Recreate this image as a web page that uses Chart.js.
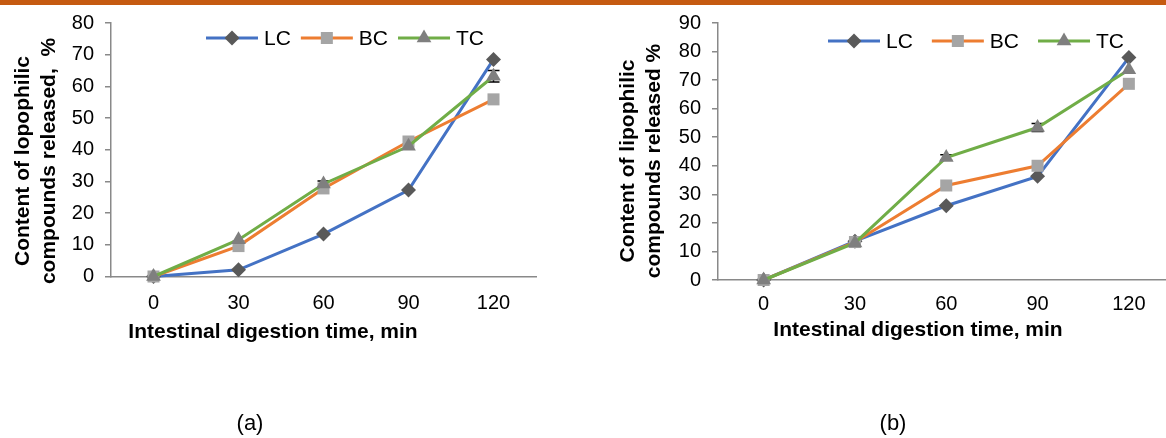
<!DOCTYPE html>
<html>
<head>
<meta charset="utf-8">
<script src="https://cdn.jsdelivr.net/npm/chart.js@4.4.1/dist/chart.umd.min.js"></script>
<style>
  html, body { margin: 0; padding: 0; background: #fff; width: 1166px; height: 438px; overflow: hidden; position: relative; font-family: "Liberation Sans", Arial, sans-serif; }
  #topbar { position: absolute; left: 0; top: 0; width: 1166px; height: 5px; background: #C55A11; }
  .panel { position: absolute; top: 0; height: 438px; }
  #pa { left: 0; width: 583px; }
  #pb { left: 583px; width: 600px; }
  .cap { position: absolute; top: 410px; font-size: 22px; line-height: 26px; color: #000; transform: translateX(-50%); white-space: nowrap; }
</style>
</head>
<body>
<div id="topbar"></div>
<div class="panel" id="pa"><canvas id="ca" width="583" height="438"></canvas></div>
<div class="panel" id="pb"><canvas id="cb" width="600" height="438"></canvas></div>
<div class="cap" style="left:250px">(a)</div>
<div class="cap" style="left:893px">(b)</div>

<script>
// Intestinal digestion time points, min
const timeLabels = ['0', '30', '60', '90', '120'];
const seriesNames = ['LC', 'BC', 'TC'];

// Panel (a): lipophilic compounds released, %
const lcA = [0, 2.1, 13.4, 27.3, 68.5];
const bcA = [0, 9.6, 27.8, 42.6, 55.9];
const tcA = [0, 11.6, 29.2, 41.1, 63.2];
const tcErrA = [0, 0, 0.9, 0, 1.8];

// Panel (b): lipophilic compounds released, %
const lcB = [0, 13.6, 26.0, 36.3, 77.9];
const bcB = [0, 13.3, 33.1, 40.0, 68.7];
const tcB = [0, 13.0, 42.9, 53.4, 73.6];
const tcErrB = [0, 0, 1.0, 1.4, 0];

// Value axis ranges
const yMaxA = 80;
const yMaxB = 90;
const yStep = 10;

const FONT = '"Liberation Sans", Arial, sans-serif';
const AXIS_GREY = '#898989';

const seriesStyle = {
  LC: { line: '#4472C4', marker: '#595959', pointStyle: 'rectRot', radius: 7.5 },
  BC: { line: '#ED7D31', marker: '#A5A5A5', pointStyle: 'rect', radius: 8.5 },
  TC: { line: '#70AD47', marker: '#7F7F7F', pointStyle: 'triangle', radius: 8.5 }
};

function makeDataset(name, values, order, errors) {
  const s = seriesStyle[name];
  return {
    label: name,
    data: values,
    errorBars: errors || null,
    order: order,
    borderColor: s.line,
    backgroundColor: s.line,
    borderWidth: 3,
    tension: 0,
    clip: false,
    pointStyle: s.pointStyle,
    pointRadius: s.radius,
    pointHoverRadius: s.radius,
    pointBackgroundColor: s.marker,
    pointBorderColor: s.marker,
    pointBorderWidth: 0
  };
}

// Draws error bars under the markers, the line-and-marker legend and the axis titles
const panelDecor = {
  id: 'panelDecor',
  beforeDatasetsDraw(chart) {
    const ctx = chart.ctx;
    const yScale = chart.scales.y;
    ctx.save();
    ctx.strokeStyle = '#000';
    ctx.lineWidth = 1.5;
    chart.data.datasets.forEach((ds, i) => {
      if (!ds.errorBars) return;
      const meta = chart.getDatasetMeta(i);
      meta.data.forEach((pt, j) => {
        const e = ds.errorBars[j];
        if (!e) return;
        const v = ds.data[j];
        const yTop = yScale.getPixelForValue(v + e);
        const yBot = yScale.getPixelForValue(v - e);
        ctx.beginPath();
        ctx.moveTo(pt.x, yTop); ctx.lineTo(pt.x, yBot);
        ctx.moveTo(pt.x - 6, yTop); ctx.lineTo(pt.x + 6, yTop);
        ctx.moveTo(pt.x - 6, yBot); ctx.lineTo(pt.x + 6, yBot);
        ctx.stroke();
      });
    });
    ctx.restore();
  },
  afterDraw(chart, args, opts) {
    const ctx = chart.ctx;
    ctx.save();

    // legend: line with marker, then series name
    ctx.font = '21px ' + FONT;
    ctx.textBaseline = 'middle';
    ctx.textAlign = 'left';
    let x = opts.legendX;
    const y = opts.legendY;
    const lineLen = 52;
    seriesNames.forEach(name => {
      const s = seriesStyle[name];
      ctx.strokeStyle = s.line;
      ctx.lineWidth = 3;
      ctx.beginPath();
      ctx.moveTo(x, y); ctx.lineTo(x + lineLen, y);
      ctx.stroke();
      ctx.fillStyle = s.marker;
      Chart.helpers.drawPoint(ctx, { pointStyle: s.pointStyle, radius: s.radius, rotation: 0, borderWidth: 0 }, x + lineLen / 2, y);
      ctx.fillStyle = '#000';
      const tx = x + lineLen + 6;
      ctx.fillText(name, tx, y + 1);
      x = tx + ctx.measureText(name).width + opts.legendGap;
    });

    // value axis title (two centred lines, rotated)
    ctx.font = 'bold 21px ' + FONT;
    ctx.fillStyle = '#000';
    ctx.textAlign = 'center';
    opts.yTitle.forEach((line, k) => {
      ctx.save();
      ctx.translate(opts.yTitleX[k], opts.yTitleY);
      ctx.rotate(-Math.PI / 2);
      ctx.fillText(line, 0, 0);
      ctx.restore();
    });

    // category axis title
    ctx.fillText(opts.xTitle, opts.xTitleX, opts.xTitleY);
    ctx.restore();
  }
};

function makeChart(canvasId, sets, yMax, layout, decor) {
  return new Chart(document.getElementById(canvasId), {
    type: 'line',
    data: { labels: timeLabels, datasets: sets },
    plugins: [panelDecor],
    options: {
      responsive: false,
      animation: false,
      events: [],
      layout: { padding: layout.padding },
      plugins: {
        legend: { display: false },
        tooltip: { enabled: false },
        panelDecor: decor
      },
      scales: {
        x: {
          type: 'category',
          offset: true,
          afterFit: s => { s.height = layout.xHeight; },
          grid: { display: false, drawTicks: false },
          border: { display: true, color: AXIS_GREY, width: 1.5 },
          ticks: { color: '#000', font: { family: FONT, size: 20 }, padding: layout.xTickPad, maxRotation: 0, autoSkip: false }
        },
        y: {
          min: 0, max: yMax,
          afterFit: s => { s.width = layout.yWidth; },
          grid: { drawOnChartArea: false, drawTicks: true, tickLength: 6, color: AXIS_GREY, lineWidth: 1.5 },
          border: { display: true, color: AXIS_GREY, width: 1.5 },
          ticks: { stepSize: yStep, color: '#000', font: { family: FONT, size: 20 }, padding: 11 }
        }
      }
    }
  });
}

makeChart('ca', [
  makeDataset('LC', lcA, 3),
  makeDataset('BC', bcA, 2),
  makeDataset('TC', tcA, 1, tcErrA)
], yMaxA,
  { padding: { left: 0, top: 23, right: 47, bottom: 101.5 }, xHeight: 60, yWidth: 111, xTickPad: 15 },
  { legendX: 206, legendY: 38, legendGap: 10,
    yTitle: ['Content of lopophilic', 'compounds released,  %'], yTitleX: [23, 49], yTitleY: 161,
    xTitle: 'Intestinal digestion time, min', xTitleX: 273, xTitleY: 332 });

makeChart('cb', [
  makeDataset('LC', lcB, 3),
  makeDataset('BC', bcB, 2),
  makeDataset('TC', tcB, 1, tcErrB)
], yMaxB,
  { padding: { left: 0, top: 19, right: 5, bottom: 98 }, xHeight: 60, yWidth: 135, xTickPad: 12 },
  { legendX: 245, legendY: 41, legendGap: 19,
    yTitle: ['Content of lipophilic', 'compounds released %'], yTitleX: [45, 71], yTitleY: 161,
    xTitle: 'Intestinal digestion time, min', xTitleX: 335, xTitleY: 330 });
</script>
</body>
</html>
